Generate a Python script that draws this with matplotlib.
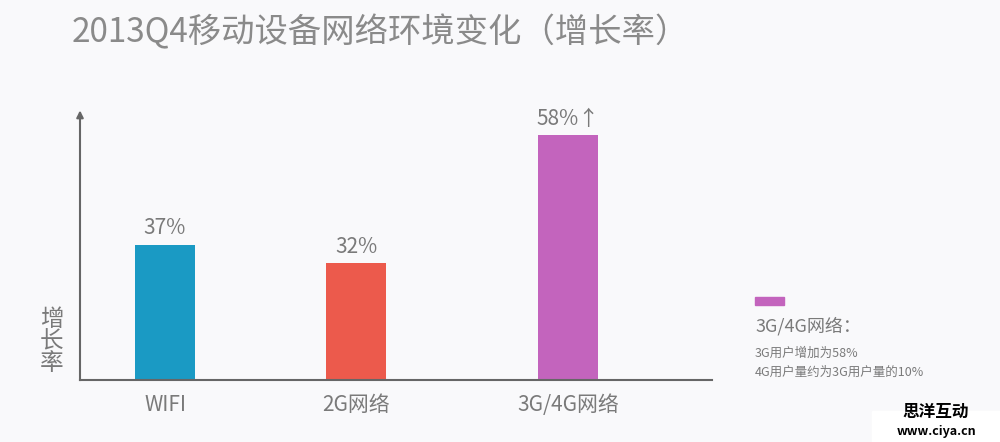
import matplotlib
matplotlib.use("Agg")
import matplotlib.pyplot as plt

plt.rcParams['font.family'] = ['Noto Sans CJK SC', 'DejaVu Sans']

categories = ['WIFI', '2G网络', '3G/4G网络']
values = [37, 32, 58]
labels = ['37%', '32%', '58%↑']
# drawn bar heights (the 3G/4G bar is drawn taller, marked with ↑)
drawn = [37, 32, 67]
colors = ['#1a9ac4', '#ec5a4c', '#c364bd']
xpos = [85, 276, 488]

bg = '#f9f9fb'
grey = '#7a7a7a'
fig = plt.figure(figsize=(10, 4.42), dpi=100, facecolor=bg)
ax = fig.add_axes([0.080, 1 - 380 / 442, 0.632, (380 - 113) / 442])
ax.set_facecolor('none')
ax.set_xlim(0, 632)
ax.set_ylim(0, 267 / 3.65)

ax.bar(xpos, drawn, width=60, color=colors)
for x, h, t in zip(xpos, drawn, labels):
    ax.text(x, h + 1.5, t, ha='center', va='bottom', fontsize=15, color=grey)

for s in ['top', 'right']:
    ax.spines[s].set_visible(False)
for s in ['left', 'bottom']:
    ax.spines[s].set_color('#666666')
    ax.spines[s].set_linewidth(1.5)
ax.set_xticks(xpos)
ax.set_xticklabels(categories, fontsize=15, color=grey)
ax.tick_params(axis='x', length=0, pad=10)
ax.set_yticks([])
ax.annotate('', xy=(0, 1.02), xytext=(0, 0.98), xycoords='axes fraction',
            arrowprops=dict(arrowstyle='-|>', color='#666666', lw=1.5))

fig.text(0.072, 0.965, '2013Q4移动设备网络环境变化（增长率）', fontsize=24,
         color='#8a8a8a', va='top', fontweight='light')
fig.text(0.052, 1 - 308 / 442, '增\n长\n率', fontsize=17, color=grey,
         va='top', ha='center', linespacing=0.95)

fig.patches.append(plt.Rectangle((0.755, 1 - 305 / 442), 0.029, 8 / 442,
                                 transform=fig.transFigure, color='#c364bd'))
fig.text(0.755, 1 - 317 / 442, '3G/4G网络：', fontsize=13, color=grey, va='top')
fig.text(0.755, 1 - 347 / 442, '3G用户增加为58%', fontsize=9, color=grey, va='top')
fig.text(0.755, 1 - 366 / 442, '4G用户量约为3G用户量的10%', fontsize=9, color=grey, va='top')

fig.patches.append(plt.Rectangle((0.872, 0), 0.128, 0.07,
                                 transform=fig.transFigure, color='white'))
fig.text(0.936, 1 - 412 / 442, '思洋互动', fontsize=12, fontweight='bold',
         ha='center', va='center', color='black')
fig.text(0.936, 1 - 432 / 442, 'www.ciya.cn', fontsize=9, fontweight='bold',
         ha='center', va='center', color='black')

fig.savefig('out.png', dpi=100, facecolor=bg)
